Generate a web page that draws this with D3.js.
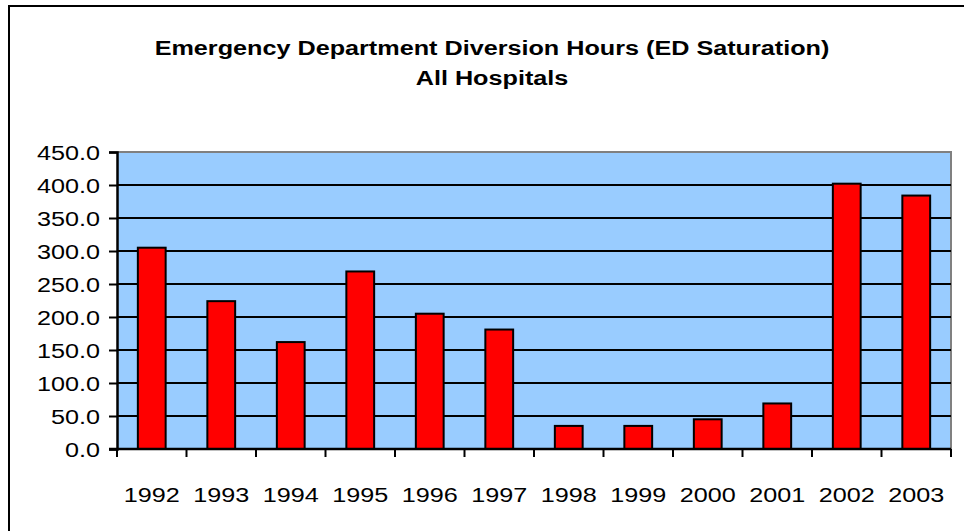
<!DOCTYPE html>
<html>
<head>
<meta charset="utf-8">
<script src="https://cdn.jsdelivr.net/npm/d3@7"></script>
<style>
  body { margin: 0; background: #fff; }
  svg { display: block; font-family: Arial, "Liberation Sans", sans-serif; }
</style>
</head>
<body>
<div id="chart"></div>
<script>
const years = ["1992", "1993", "1994", "1995", "1996", "1997", "1998", "1999", "2000", "2001", "2002", "2003"];
const hours = [305, 224, 162, 269, 205, 181, 35, 35, 45, 69, 402, 384];
const yTicks = [0, 50, 100, 150, 200, 250, 300, 350, 400, 450];
const titleLines = ["Emergency Department Diversion Hours (ED Saturation)", "All Hospitals"];

const width = 964;
const height = 531;
const margin = { top: 152, right: 13, bottom: 82, left: 117 };
const stretch = 1.2; // text in the picture looks a little wide

const svg = d3.select("#chart")
    .append("svg")
    .attr("width", width)
    .attr("height", height);

// outer frame, runs off the right and bottom edges
svg.append("rect")
    .attr("x", 9)
    .attr("y", 6)
    .attr("width", 970)
    .attr("height", 540)
    .attr("fill", "#fff")
    .attr("stroke", "#000")
    .attr("stroke-width", 2);

const x = d3.scaleBand()
    .domain(years)
    .range([margin.left, width - margin.right])
    .padding(0);

const y = d3.scaleLinear()
    .domain([0, 450])
    .range([height - margin.bottom, margin.top]);

// plot area
svg.append("rect")
    .attr("x", margin.left)
    .attr("y", y(450))
    .attr("width", width - margin.right - margin.left)
    .attr("height", y(0) - y(450))
    .attr("fill", "#99ccff");

// top and right edges in grey
svg.append("path")
    .attr("d", `M${margin.left},${y(450)}H${width - margin.right}V${y(0)}`)
    .attr("fill", "none")
    .attr("stroke", "#808080")
    .attr("stroke-width", 2);

// gridlines
svg.append("g")
    .selectAll("line")
    .data(yTicks.filter(d => d > 0 && d < 450))
    .enter()
    .append("line")
    .attr("x1", margin.left)
    .attr("x2", width - margin.right)
    .attr("y1", d => y(d))
    .attr("y2", d => y(d))
    .attr("stroke", "#000")
    .attr("stroke-width", 2);

// bars
const barW = x.bandwidth() * 0.4;
svg.append("g")
    .selectAll("rect")
    .data(years)
    .enter()
    .append("rect")
    .attr("x", (d) => x(d) + (x.bandwidth() - barW) / 2)
    .attr("y", (d, i) => y(hours[i]))
    .attr("width", barW)
    .attr("height", (d, i) => y(0) - y(hours[i]))
    .attr("fill", "#ff0000")
    .attr("stroke", "#000")
    .attr("stroke-width", 2);

// y axis
const yAxis = svg.append("g")
    .attr("transform", `translate(${margin.left},0)`)
    .call(d3.axisLeft(y).tickValues(yTicks).tickSize(8).tickPadding(0).tickFormat(d3.format(".1f")));
yAxis.select(".domain").attr("stroke-width", 2.5);
yAxis.selectAll(".tick line").attr("stroke-width", 2);
yAxis.selectAll(".tick text").remove();
yAxis.selectAll(".tick")
    .append("text")
    .attr("transform", `translate(-17,7) scale(${stretch},1)`)
    .attr("text-anchor", "end")
    .attr("fill", "#000")
    .style("font-size", "21px")
    .text(d => d3.format(".1f")(d));

// x axis
const xAxis = svg.append("g")
    .attr("transform", `translate(0,${y(0)})`)
    .call(d3.axisBottom(x).tickSize(0).tickSizeOuter(0));
xAxis.select(".domain").attr("d", `M${margin.left - 8},0H${width - margin.right}`).attr("stroke-width", 2.5);
xAxis.selectAll(".tick text").remove();
xAxis.selectAll(".tick")
    .append("text")
    .attr("transform", `translate(0,53) scale(${stretch},1)`)
    .attr("text-anchor", "middle")
    .attr("fill", "#000")
    .style("font-size", "21px")
    .text(d => d);
// tick marks sit on the band edges
svg.append("g")
    .selectAll("line")
    .data(years.concat(["end"]))
    .enter()
    .append("line")
    .attr("x1", (d, i) => i < years.length ? x(d) : width - margin.right)
    .attr("x2", (d, i) => i < years.length ? x(d) : width - margin.right)
    .attr("y1", y(0))
    .attr("y2", y(0) + 8)
    .attr("stroke", "#000")
    .attr("stroke-width", 2);

// title
svg.append("g")
    .selectAll("text")
    .data(titleLines)
    .enter()
    .append("text")
    .attr("transform", (d, i) => `translate(${(155 + 829) / 2},${55 + i * 30}) scale(${stretch},1)`)
    .attr("text-anchor", "middle")
    .style("font-size", "21px")
    .style("font-weight", "bold")
    .text(d => d);
</script>
</body>
</html>
